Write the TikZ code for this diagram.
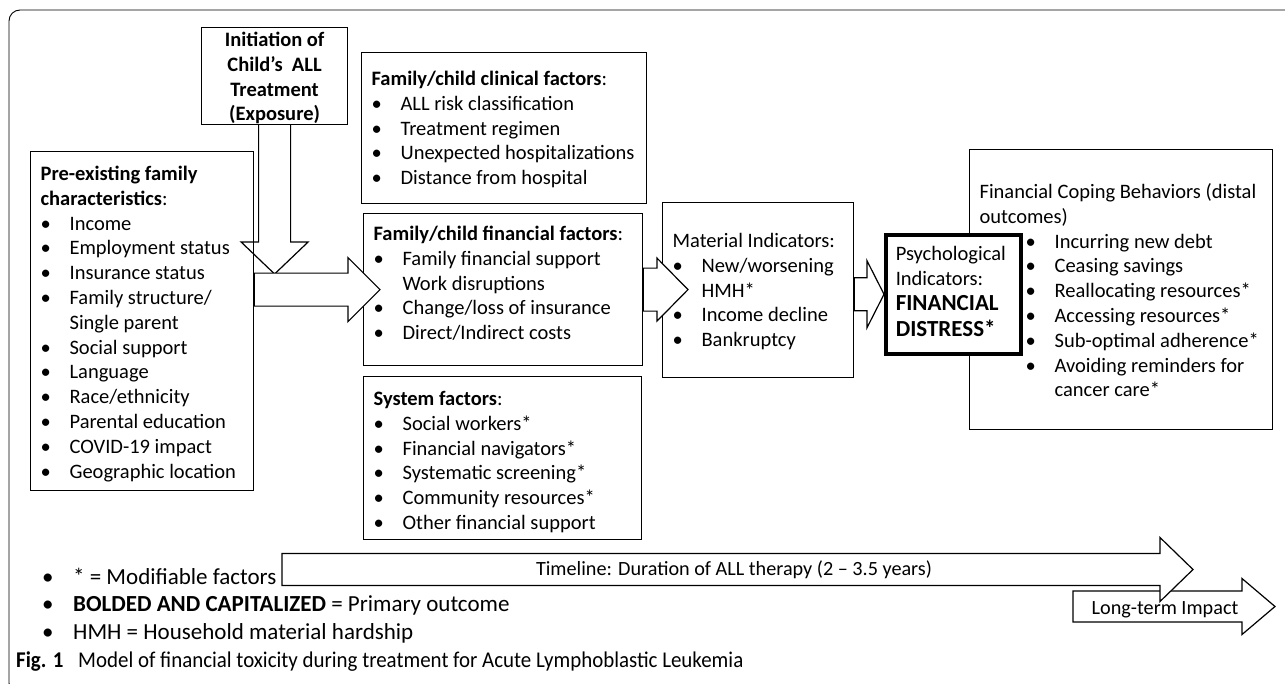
\documentclass[tikz,border=0pt]{standalone}
\usepackage{fontspec}
\setmainfont{Carlito}
\usetikzlibrary{calc}

\newcommand{\bodyfont}{\fontsize{20.5}{24.8}\selectfont}
\newcommand{\blt}{\makebox[29pt][l]{\textbullet}}
\newcommand{\gap}{\hspace*{29pt}}
% width, height, space above first line, text
\newcommand{\panelbody}[4]{\parbox[c][#2][t]{#1}{\bodyfont\vspace*{#3}\strut#4}}

\tikzset{
  panel/.style={draw, line width=1.2pt, fill=white, anchor=north west,
    inner xsep=10pt, inner ysep=0pt},
  lbl/.style={inner sep=0pt, font=\fontsize{20.2}{24}\selectfont},
  % shaft half width / head half width / head length
  fatarrow/.style n args={3}{draw, line width=1.2pt, fill=white,
    to path={let \p1=(\tikztostart), \p2=(\tikztotarget) in
      (\x1,\y1+#1) -- (\x2-#3,\y1+#1) -- (\x2-#3,\y1+#2) -- (\x2,\y1)
      -- (\x2-#3,\y1-#2) -- (\x2-#3,\y1-#1) -- (\x1,\y1-#1) -- cycle}},
  downarrow/.style n args={3}{draw, line width=1.2pt,
    to path={let \p1=(\tikztostart), \p2=(\tikztotarget) in
      (\x1-#1,\y1) -- (\x1-#1,\y2+#3) -- (\x1-#2,\y2+#3) -- (\x1,\y2)
      -- (\x1+#2,\y2+#3) -- (\x1+#1,\y2+#3) -- (\x1+#1,\y1)}},
}

\begin{document}
\begin{tikzpicture}[x=1pt,y=-1pt]

  \useasboundingbox (0,0) rectangle (1285,683);
  \clip (0,0) rectangle (1285,683);

  % figure frame
  \draw[line width=0.9pt, rounded corners=11pt] (1300,10) -- (9,10) -- (9,694) -- (60,694);

  % exposure
  \node[panel] (init) at (201,27) {\panelbody{126pt}{97pt}{1.6pt}{\centering\bfseries
    Initiation of\\ Child’s~ ALL\\ Treatment\\ (Exposure)}};

  % pre-existing characteristics
  \node[panel] (pre) at (30,151) {\panelbody{203pt}{339pt}{11.6pt}{%
    \textbf{Pre-existing family}\\ \textbf{characteristics}:\\
    \blt Income\\ \blt Employment status\\ \blt Insurance status\\
    \blt Family structure/\\ \gap Single parent\\ \blt Social support\\
    \blt Language\\ \blt Race/ethnicity\\ \blt Parental education\\
    \blt COVID-19 impact\\ \blt Geographic location}};

  % middle column
  \node[panel] (clin) at (361,52) {\panelbody{265pt}{151pt}{15.6pt}{%
    \textbf{Family/child clinical factors}:\\
    \blt ALL risk classification\\ \blt Treatment regimen\\
    \blt Unexpected hospitalizations\\ \blt Distance from hospital}};

  \node[panel] (fin) at (363,213) {\panelbody{259pt}{152pt}{9.6pt}{%
    \textbf{Family/child financial factors}:\\
    \blt Family financial support\\ \gap Work disruptions\\
    \blt Change/loss of insurance\\ \blt Direct/Indirect costs}};

  \node[panel] (sys) at (363,376) {\panelbody{258pt}{163pt}{11.6pt}{%
    \textbf{System factors}:\\
    \blt Social workers*\\ \blt Financial navigators*\\
    \blt Systematic screening*\\ \blt Community resources*\\
    \blt Other financial support}};

  % outcomes
  \node[panel] (mat) at (662,202) {\panelbody{171pt}{175pt}{27.6pt}{%
    Material Indicators:\\ \blt New/worsening\\ \gap HMH*\\
    \blt Income decline\\ \blt Bankruptcy}};

  \node[panel] (cope) at (969,149) {\panelbody{283pt}{280pt}{31.6pt}{%
    Financial Coping Behaviors (distal\\ outcomes)\\
    \hspace*{46pt}\blt Incurring new debt\\
    \hspace*{46pt}\blt Ceasing savings\\
    \hspace*{46pt}\blt Reallocating resources*\\
    \hspace*{46pt}\blt Accessing resources*\\
    \hspace*{46pt}\blt Sub-optimal adherence*\\
    \hspace*{46pt}\blt Avoiding reminders for\\
    \hspace*{75pt}cancer care*}};

  \node[panel, line width=3.5pt] (psy) at (884,233) {\panelbody{115pt}{119pt}{8.6pt}{%
    Psychological\\ Indicators:\\
    {\fontsize{23}{25}\selectfont\bfseries FINANCIAL\\[1.5pt] DISTRESS*}}};

  % block arrows
  \draw[downarrow={16}{33.5}{32}] (init.south) to (init.south |- 0,274);
  \draw[fatarrow={16.5}{32}{32}] (pre.east |- fin.west) to ([xshift=17pt]fin.west);
  \draw[fatarrow={21.5}{31.5}{31}] (fin.east) to ([xshift=26pt]mat.west |- fin.east);
  \draw[fatarrow={16.5}{33.5}{17}] (mat.east |- psy.west) to (psy.west);

  % time axis
  \coordinate (lt0) at (1073,606.5);
  \coordinate (lt1) at (1275,606.5);
  \coordinate (tl0) at (282,569.5);
  \coordinate (tl1) at (1193,569.5);
  \draw[fatarrow={15.5}{28}{33}] (lt0) to (lt1);
  \draw[fatarrow={16}{32}{33}] (tl0) to (tl1);
  \node[lbl] (tltext) at (734,570) {Timeline: Duration of ALL therapy (2 – 3.5 years)};
  \node[lbl] (lttext) at (1165,610) {Long-term Impact};

  % legend
  \node[anchor=base west, inner sep=0pt] (key) at (42,584) {\parbox[t]{600pt}{%
    \fontsize{23}{27.5}\selectfont
    \makebox[31pt][l]{\textbullet}* = Modifiable factors\\
    \makebox[31pt][l]{\textbullet}\textbf{BOLDED AND CAPITALIZED} = Primary outcome\\
    \makebox[31pt][l]{\textbullet}HMH = Household material hardship}};

  \node[anchor=base west, inner sep=0pt, font=\fontsize{22.5}{26}\selectfont] (cap) at (16,667)
    {\scalebox{0.93}[1]{\textbf{Fig. 1}\hspace{16pt}Model of financial toxicity during treatment for Acute Lymphoblastic Leukemia}};

\end{tikzpicture}
\end{document}
